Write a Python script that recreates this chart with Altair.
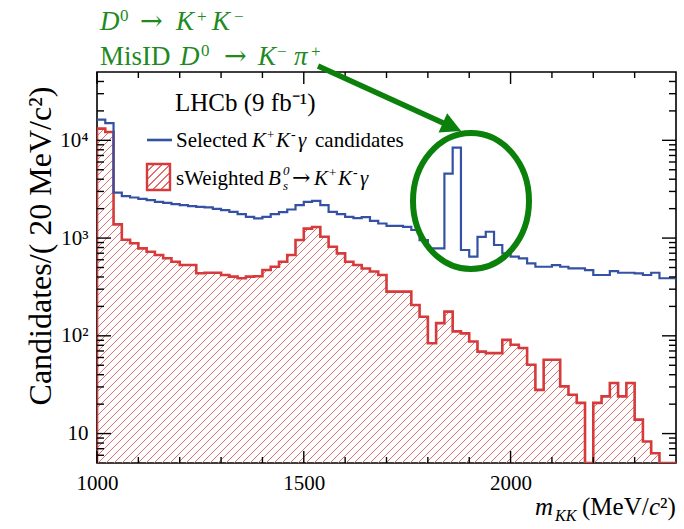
import altair as alt
import pandas as pd
import math

# ---------------- data ----------------
bin_edges = list(range(1000, 2420, 20))  # 70 bins of 20 MeV, 71 edges

blue_counts = [16260, 15000, 2920, 2680, 2600, 2520, 2440, 2350, 2290, 2220,
               2170, 2120, 2090, 2060, 1990, 1930, 1850, 1760, 1650, 1590,
               1650, 1760, 1840, 1960, 2170, 2350, 2400, 2170, 1850, 1760,
               1650, 1600, 1640, 1500, 1410, 1330, 1330, 1300, 1210, 955,
               785, 785, 4570, 8420, 755, 645, 1030, 1160, 849, 698,
               645, 621, 552, 509, 509, 530, 509, 489, 489, 471,
               419, 419, 460, 442, 442, 436, 419, 442, 388, 388]

red_counts = [13160, 12150, 1380, 960, 885, 785, 725, 671, 621, 573,
              530, 530, 436, 442, 442, 419, 403, 388, 403, 407,
              471, 509, 573, 671, 955, 1250, 1300, 1030, 815, 698,
              573, 530, 489, 455, 419, 283, 283, 283, 207, 157,
              84, 135, 177, 111, 106, 87.5, 69, 66.5, 66.5, 91,
              81, 75, 50.6, 28, 57, 57, 30.4, 25, 20.6, 0,
              20.6, 24, 32.9, 24, 32.9, 13.9, 8.3, 6.3, 0, 0]

x_ticks_major = [1000, 1500, 2000]
x_ticks_minor = [1100, 1200, 1300, 1400, 1600, 1700, 1800, 1900, 2100, 2200, 2300]
y_ticks_major = [10, 100, 1000, 10000]
y_ticks_minor = [6, 7, 8, 9, 20, 30, 40, 50, 60, 70, 80, 90,
                 200, 300, 400, 500, 600, 700, 800, 900,
                 2000, 3000, 4000, 5000, 6000, 7000, 8000, 9000,
                 20000, 30000, 40000]

# ---------------- layout / style ----------------
W, H = 579, 391
L, T = 97, 72
Y_MIN, Y_MAX = 5, 50000
FONT = "Liberation Serif"
BLUE = "#3551a3"
RED = "#d63a3a"
HATCH = "#e27070"
GREEN_T = "#1f8a1f"
GREEN = "#0b800b"

xscale = alt.Scale(domain=[1000, 2400], nice=False, zero=False)
yscale = alt.Scale(type="log", domain=[Y_MIN, Y_MAX], nice=False, clamp=True)

label_expr = ("datum.value == 10 ? '10' : datum.value == 100 ? '10²' : "
              "datum.value == 1000 ? '10³' : '10⁴'")
AX = alt.Axis(values=x_ticks_major, format="d", ticks=False, domain=False,
              grid=False, labelFont=FONT, labelFontSize=21, labelPadding=9,
              labelColor="black", labelFlush=False, labelOverlap=False, title=None)
AY = alt.Axis(values=y_ticks_major, labelExpr=label_expr, ticks=False,
              domain=False, grid=False, labelFont=FONT, labelFontSize=21,
              labelPadding=9, labelColor="black", labelFlush=False,
              labelOverlap=False, title=None)

hist = pd.DataFrame({"m": bin_edges,
                     "blue": blue_counts + [blue_counts[-1]]})
red_df = pd.DataFrame({"m": [1000] + bin_edges,
                       "red": [0] + red_counts + [red_counts[-1]]})


def hatch(w, h, period=8.0, frac=0.16, color=HATCH):
    t = (w + h) / (w * w + h * h)
    per = period / (w + h)
    clear = "rgba(255,255,255,0)"
    stops = []
    k = 0
    while k * per < 1:
        a = k * per
        b = min(a + per * (1 - frac), 1)
        c = min(a + per, 1)
        stops += [(a, clear), (b, clear), (b, color), (c, color)]
        k += 1
    return alt.LinearGradient(
        gradient="linear", x1=0, y1=0, x2=t * w, y2=t * h,
        stops=[alt.GradientStop(offset=o, color=col) for o, col in stops])


lg = math.log10
red_top = H * (lg(Y_MAX) - lg(max(red_counts))) / (lg(Y_MAX) - lg(Y_MIN))
area_h = H - red_top

area = alt.Chart(red_df).transform_calculate(
    yv="max(datum.red, 1)", base="1"
).mark_area(interpolate="step-after", fill=hatch(W, area_h), clip=True).encode(
    x=alt.X("m:Q", scale=xscale, axis=AX),
    y=alt.Y("yv:Q", scale=yscale, axis=AY),
    y2="base:Q",
)

red_line = alt.Chart(red_df).transform_calculate(
    yv="max(datum.red, 1)"
).mark_line(interpolate="step-after", color=RED, strokeWidth=2.6, clip=True).encode(
    x=alt.X("m:Q", scale=xscale, axis=AX),
    y=alt.Y("yv:Q", scale=yscale, axis=AY),
)

blue_line = alt.Chart(hist).mark_line(
    interpolate="step-after", color=BLUE, strokeWidth=2.2, clip=True
).encode(
    x=alt.X("m:Q", scale=xscale, axis=AX),
    y=alt.Y("blue:Q", scale=yscale, axis=AY),
)


def yticks(vals, x0, x1):
    return alt.Chart(pd.DataFrame({"v": vals})).mark_rule(
        color="black", strokeWidth=1.4).encode(
        y=alt.Y("v:Q", scale=yscale, axis=AY), x=alt.value(x0), x2=alt.value(x1))


def xticks(vals, y0, y1):
    return alt.Chart(pd.DataFrame({"v": vals})).mark_rule(
        color="black", strokeWidth=1.4).encode(
        x=alt.X("v:Q", scale=xscale, axis=AX), y=alt.value(y0), y2=alt.value(y1))


ticks = [
    yticks(y_ticks_major, 0, 14), yticks(y_ticks_minor, 0, 7),
    yticks(y_ticks_major, W, W - 14), yticks(y_ticks_minor, W, W - 7),
    xticks(x_ticks_major, H, H - 12), xticks(x_ticks_minor, H, H - 6),
    xticks(x_ticks_major, 0, 12), xticks(x_ticks_minor, 0, 6),
]

one = alt.Data(values=[{"a": 1}])


def txt(s, x, y, size, style="normal", color="black", align="left", angle=None,
        font=FONT):
    kw = dict(text=s, align=align, baseline="alphabetic", font=font, fontSize=size,
              fontStyle=style, color=color)
    if angle is not None:
        kw["angle"] = angle
    return alt.Chart(one).mark_text(**kw).encode(x=alt.value(x - L), y=alt.value(y - T))


def kkg(x0, base, size=21):
    # K+ K- gamma, positioned piece by piece
    return [
        txt("K", x0, base, size, style="italic"),
        txt("+", x0 + 15, base - 8, 13),
        txt("K", x0 + 24, base, size, style="italic"),
        txt("-", x0 + 39, base - 8, 14),
        txt("γ", x0 + 46, base, size, style="italic"),
    ]


texts = [
    # axis titles
    txt("Candidates/( 20 MeV/c²)", 51, 246, 32, angle=270, align="center"),
    txt("m", 535, 515, 25, style="italic"),
    txt("KK", 555, 521, 16, style="italic"),
    txt("(MeV/", 582, 515, 25),
    txt("c", 649, 515, 25, style="italic"),
    txt("²)", 660, 515, 25),
    # legend
    txt("LHCb (9 fb⁻¹)", 175, 111, 25),
    txt("Selected", 176, 147, 21),
    *kkg(252, 147),
    txt("candidates", 315, 147, 21),
    txt("sWeighted", 176, 185, 21),
    txt("B", 268, 185, 21, style="italic"),
    txt("0", 283, 175, 13, style="italic"),
    txt("s", 283, 190, 13, style="italic"),
    txt("→", 292, 185, 22, font="DejaVu Serif"),
    *kkg(314, 185),
    # green annotation
    txt("D", 100, 30, 27, style="italic", color=GREEN_T),
    txt("0", 120, 21, 17, color=GREEN_T),
    txt("→", 140, 30, 27, color=GREEN_T, font="DejaVu Serif"),
    txt("K", 176, 30, 27, style="italic", color=GREEN_T),
    txt("+", 197, 22, 17, color=GREEN_T),
    txt("K", 212, 30, 27, style="italic", color=GREEN_T),
    txt("−", 234, 22, 17, color=GREEN_T),
    txt("MisID", 100, 65, 27, color=GREEN_T),
    txt("D", 180, 65, 27, style="italic", color=GREEN_T),
    txt("0", 201, 56, 17, color=GREEN_T),
    txt("→", 224, 65, 27, color=GREEN_T, font="DejaVu Serif"),
    txt("K", 258, 65, 27, style="italic", color=GREEN_T),
    txt("−", 277, 57, 17, color=GREEN_T),
    txt("π", 294, 65, 27, style="italic", color=GREEN_T),
    txt("+", 311, 57, 17, color=GREEN_T),
]

legend_line = alt.Chart(one).mark_rule(color=BLUE, strokeWidth=2.6).encode(
    x=alt.value(147 - L), x2=alt.value(172 - L), y=alt.value(140 - T))
legend_box = alt.Chart(one).mark_rect(
    fill=hatch(23, 26), stroke=RED, strokeWidth=2.4).encode(
    x=alt.value(147 - L), x2=alt.value(170 - L), y=alt.value(164 - T), y2=alt.value(190 - T))

arrow_line = alt.Chart(one).mark_rule(color=GREEN, strokeWidth=5.5).encode(
    x=alt.value(318 - L), y=alt.value(66 - T), x2=alt.value(452 - L), y2=alt.value(127 - T))
arrow_head = alt.Chart(one).mark_point(
    shape="M 1 0 L -1 -1.05 L -1 1.05 Z", filled=True, color=GREEN, opacity=1,
    size=400, angle=24, strokeWidth=0).encode(
    x=alt.value(452 - L), y=alt.value(127 - T))
ellipse = alt.Chart(one).mark_point(
    shape="M -0.853 0 A 0.853 1 0 1 0 0.853 0 A 0.853 1 0 1 0 -0.853 0 Z",
    filled=False, color=GREEN, opacity=1, size=136 * 136, strokeWidth=6).encode(
    x=alt.value(471 - L), y=alt.value(201 - T))

chart = alt.layer(
    area, red_line, blue_line, *ticks, legend_line, legend_box, *texts,
    arrow_line, arrow_head, ellipse
).properties(
    width=W, height=H,
    padding={"left": L, "top": T, "right": 684 - L - W, "bottom": 529 - T - H},
    autosize=alt.AutoSizeParams(type="none"),
).configure(background="white").configure_view(stroke="black", strokeWidth=1.6)

chart.save("out.html", embed_options={"renderer": "svg", "actions": False})
